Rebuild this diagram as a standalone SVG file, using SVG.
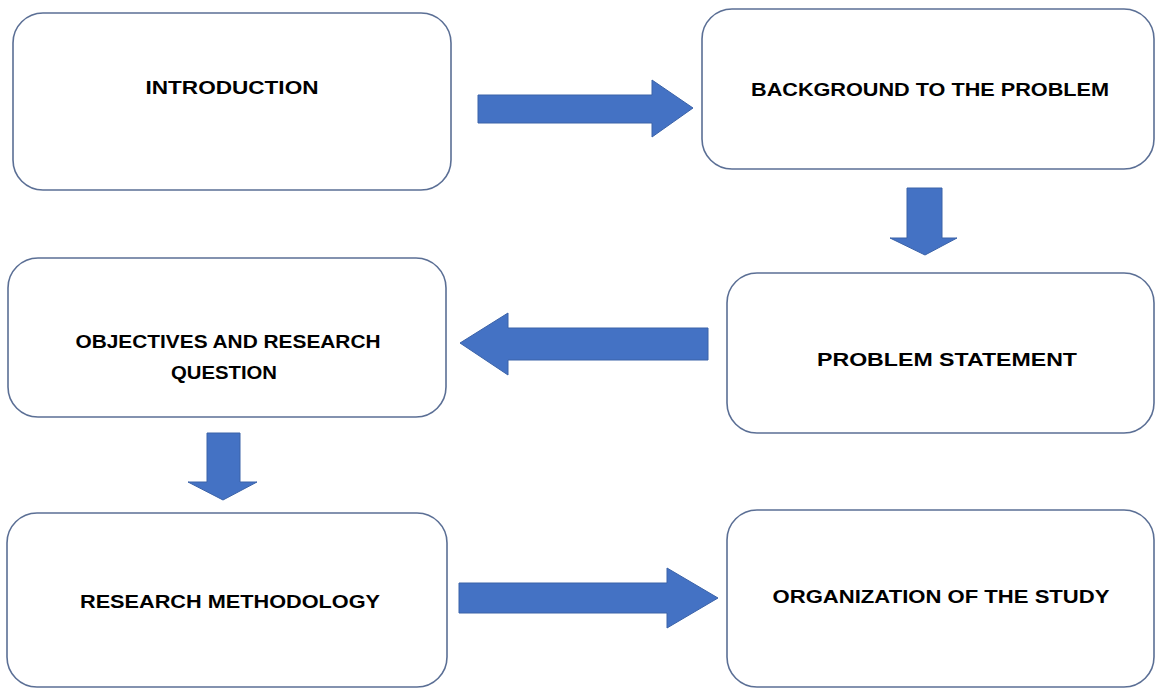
<svg xmlns="http://www.w3.org/2000/svg" width="1156" height="688" viewBox="0 0 1156 688">
  <style>
    .box { fill: #ffffff; stroke: #5b6f95; stroke-width: 1.6; }
    .lbl { font-family: "Liberation Sans", Arial, sans-serif; font-weight: bold; font-size: 18px; fill: #000000; text-anchor: middle; dominant-baseline: central; }
    .arrow { fill: #4472c4; stroke: #3a62a8; stroke-width: 1; stroke-linejoin: miter; }
  </style>
  <rect x="0" y="0" width="1156" height="688" fill="#ffffff"/>

  <g id="connectors">
    <polygon class="arrow" points="478,95 652,95 652,80 693,108 652,137 652,123 478,123"/>
    <polygon class="arrow" points="907,188 942,188 942,238 957,238 925,255 890,238 907,238"/>
    <polygon class="arrow" points="708,328 708,360 508,360 508,375 460,343 508,313 508,328"/>
    <polygon class="arrow" points="207,433 240,433 240,482 257,482 223,500 188,482 207,482"/>
    <polygon class="arrow" points="459,583 667,583 667,568 718,598 667,628 667,613 459,613"/>
  </g>

  <g id="introduction">
    <rect class="box" x="13" y="13" width="438" height="177" rx="30" ry="30"/>
    <text class="lbl" x="232" y="88" textLength="173" lengthAdjust="spacingAndGlyphs">INTRODUCTION</text>
  </g>

  <g id="background">
    <rect class="box" x="702" y="9" width="452" height="160" rx="30" ry="30"/>
    <text class="lbl" x="930" y="90" textLength="358" lengthAdjust="spacingAndGlyphs">BACKGROUND TO THE PROBLEM</text>
  </g>

  <g id="problem-statement">
    <rect class="box" x="727" y="273" width="427" height="160" rx="30" ry="30"/>
    <text class="lbl" x="947" y="360" textLength="260" lengthAdjust="spacingAndGlyphs">PROBLEM STATEMENT</text>
  </g>

  <g id="objectives">
    <rect class="box" x="8" y="258" width="438" height="159" rx="30" ry="30"/>
    <text class="lbl" x="228" y="342" textLength="305" lengthAdjust="spacingAndGlyphs">OBJECTIVES AND RESEARCH</text>
    <text class="lbl" x="224" y="373" textLength="106" lengthAdjust="spacingAndGlyphs">QUESTION</text>
  </g>

  <g id="methodology">
    <rect class="box" x="7" y="513" width="440" height="174" rx="30" ry="30"/>
    <text class="lbl" x="230" y="602" textLength="300" lengthAdjust="spacingAndGlyphs">RESEARCH METHODOLOGY</text>
  </g>

  <g id="organization">
    <rect class="box" x="727" y="510" width="427" height="177" rx="30" ry="30"/>
    <text class="lbl" x="941" y="597" textLength="337" lengthAdjust="spacingAndGlyphs">ORGANIZATION OF THE STUDY</text>
  </g>
</svg>
